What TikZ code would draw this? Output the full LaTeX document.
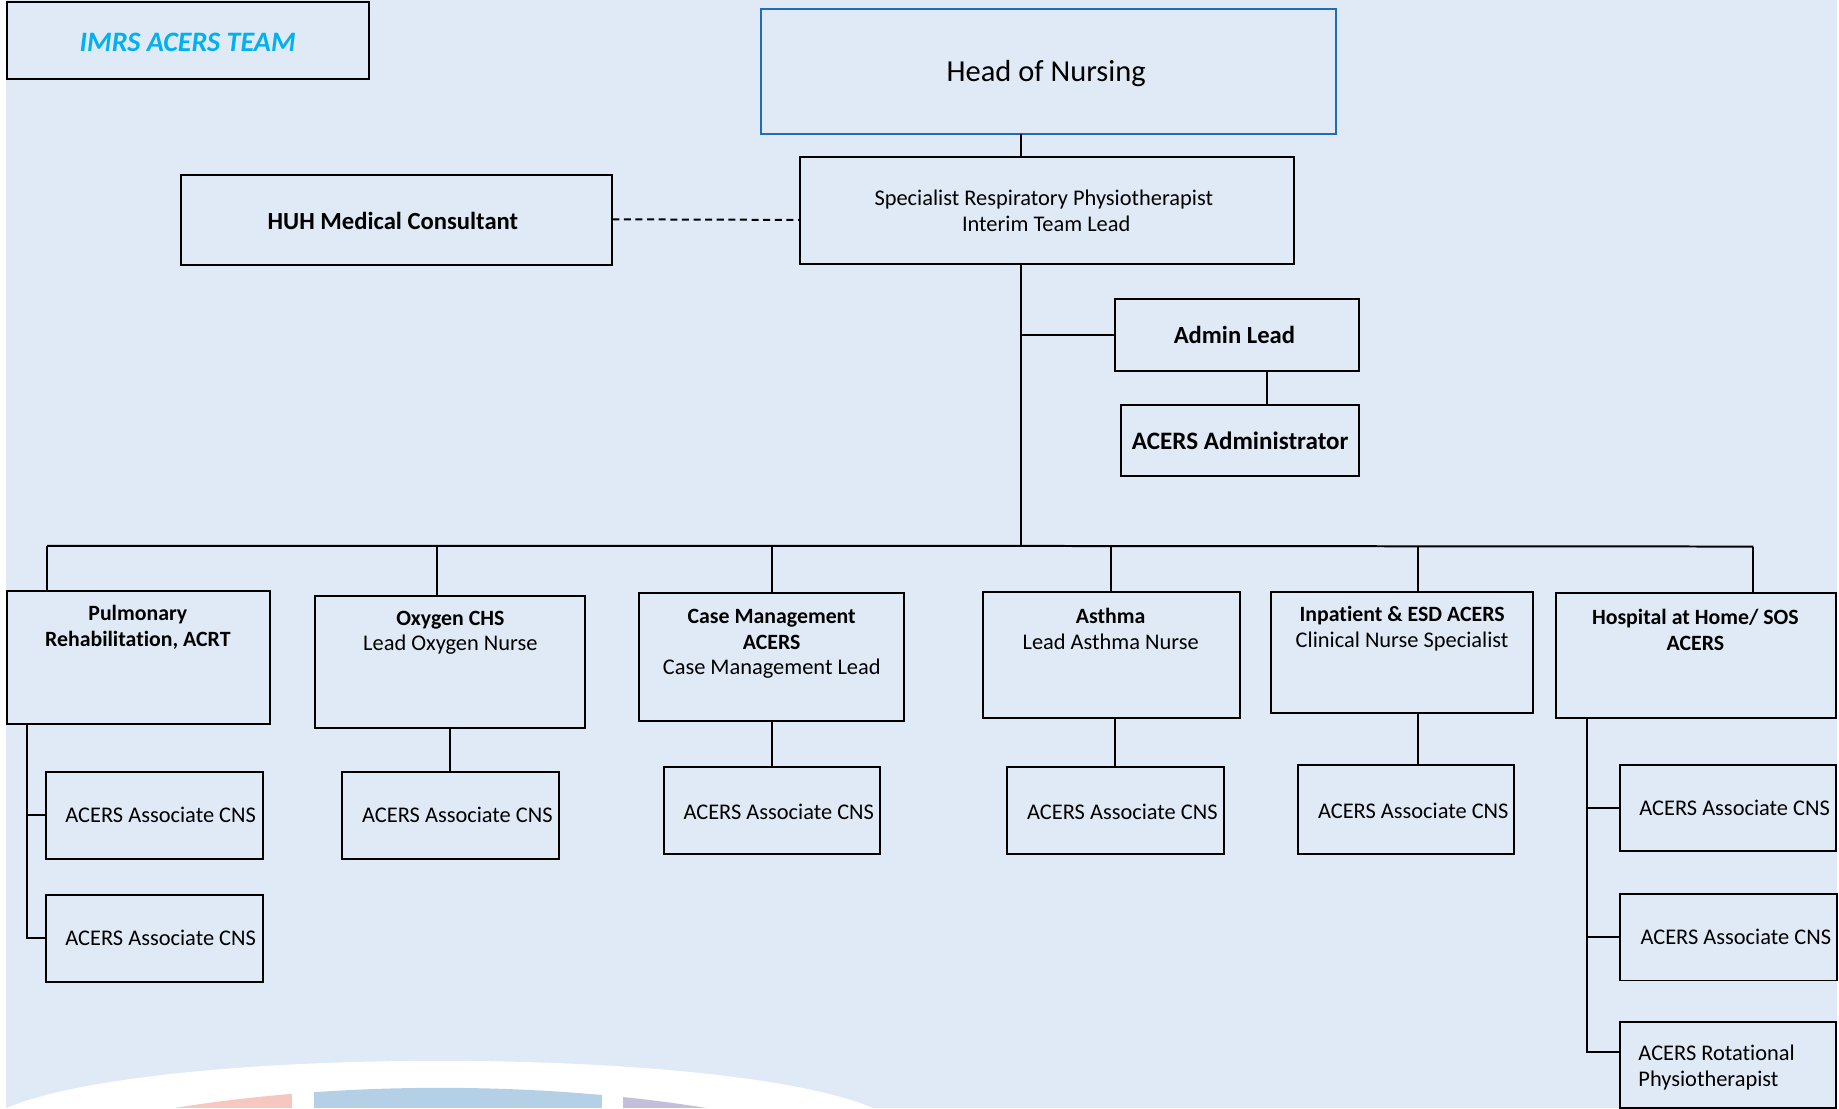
\documentclass[tikz,border=0pt]{standalone}
\usepackage{fontspec}
\setmainfont[Ligatures={NoCommon}]{Carlito}
\definecolor{bgc}{HTML}{E0EAF6}
\definecolor{headblue}{HTML}{1F6DB5}
\definecolor{teamc}{HTML}{00B0F0}
\definecolor{segr}{HTML}{F6C6C0}
\definecolor{segb}{HTML}{B3D0E7}
\definecolor{segp}{HTML}{C2BEDC}
\tikzset{
  boxst/.style={draw=black,line width=1.7pt,inner sep=0pt,outer sep=0pt},
  headst/.style={boxst,draw=headblue},
  txt/.style={inner sep=0pt,outer sep=0pt,align=center,text=black,font=\fontsize{19.1}{22}\selectfont},
  txtl/.style={txt,align=left},
  bigb/.style={txt,font=\fontsize{21}{24}\selectfont\bfseries},
  link/.style={draw=black,line width=1.7pt},
}
\newcommand{\bb}[1]{{\fontsize{18.6}{22}\selectfont\bfseries #1}}
% name, x1,y1,x2,y2
\newcommand{\mybox}[6][boxst]{%
  \pgfmathsetlengthmacro{\bw}{#5-#3}\pgfmathsetlengthmacro{\bh}{#6-#4}%
  \node[#1,minimum width=\bw,minimum height=\bh,anchor=north west] (#2) at (#3,#4) {};}
\begin{document}
\begin{tikzpicture}[x=1pt,y=-1pt]
\useasboundingbox (0,0) rectangle (1568,945);
\fill[white] (0,0) rectangle (1568,945);
\fill[bgc] (5,0) rectangle (1566,945);
\fill[white] (5,945) .. controls (130,891) and (620,891) .. (745,945) -- cycle;
\begin{scope}
\clip (147,945) .. controls (290,921.7) and (461,921.7) .. (604,945) -- cycle;
\fill[segr] (147,920) rectangle (249,945);
\fill[segb] (268,920) rectangle (513,945);
\fill[segp] (531,920) rectangle (604,945);
\end{scope}

\mybox{team}{6}{2}{315}{67}
\mybox[headst]{head}{649}{8}{1139}{114}
\mybox{spec}{682}{134}{1103}{225}
\mybox{huh}{154}{149}{522}{226}
\mybox{admin}{951}{255}{1159}{316}
\mybox{administrator}{956}{345}{1159}{406}
\mybox{pulm}{6}{504}{230}{617}
\mybox{oxy}{269}{508}{499}{621}
\mybox{case}{545}{506}{771}{615}
\mybox{asth}{838}{505}{1057}{612}
\mybox{inp}{1084}{505}{1307}{608}
\mybox{hosp}{1327}{506}{1565}{612}
\mybox{pa}{39}{658}{224}{732}
\mybox{pb}{39}{763}{224}{837}
\mybox{oa}{292}{658}{477}{732}
\mybox{ca}{566}{654}{750}{728}
\mybox{aa}{859}{654}{1044}{728}
\mybox{ia}{1107}{652}{1291}{728}
\mybox{ha}{1381}{652}{1565}{726}
\mybox{hb}{1381}{762}{1566}{836}
\mybox{hc}{1381}{871}{1565}{945}

\node[txt,font=\fontsize{24}{27}\selectfont\bfseries\itshape,text=teamc] (teamt) at (160,36.5) {IMRS ACERS TEAM};
\node[txt,font=\fontsize{26}{30}\selectfont] (headt) at (892,62.5) {Head of Nursing};
\node[txt] (spect) at (890,180) {Specialist Respiratory Physiotherapist\\\hspace*{4pt}Interim Team Lead};
\node[bigb] (huht) at (335,188) {HUH Medical Consultant};
\node[bigb] (admint) at (1052.5,286) {Admin Lead};
\node[bigb,font=\fontsize{21.4}{24}\selectfont\bfseries] (administratort) at (1057.5,375.5) {ACERS Administrator};
\node[txt] (pulmt) at (117.5,535) {\bb{Pulmonary}\\\bb{Rehabilitation, ACRT}};
\node[txt] (oxyt) at (384,539.5) {\bb{Oxygen CHS}\\Lead Oxygen Nurse};
\node[txt] (caset) at (658,549) {\bb{Case Management}\\\bb{ACERS}\\Case Management Lead};
\node[txt] (astht) at (947,536) {\bb{Asthma}\\Lead Asthma Nurse};
\node[txt] (inpt) at (1195.5,536) {\bb{Inpatient \& ESD ACERS}\\Clinical Nurse Specialist};
\node[txt] (hospt) at (1445.5,537) {\bb{Hospital at Home/ SOS}\\\bb{ACERS}};
\node[txt] (pat) at (137,695) {ACERS Associate CNS};
\node[txt] (pbt) at (137,800) {ACERS Associate CNS};
\node[txt] (oat) at (390,695) {ACERS Associate CNS};
\node[txt] (cat) at (664,692) {ACERS Associate CNS};
\node[txt] (aat) at (957,692) {ACERS Associate CNS};
\node[txt] (iat) at (1205,691) {ACERS Associate CNS};
\node[txt] (hat) at (1479,689) {ACERS Associate CNS};
\node[txt] (hbt) at (1480,799) {ACERS Associate CNS};
\node[txtl,anchor=west] (hct) at (1397,910) {ACERS Rotational\\Physiotherapist};

\coordinate (trunk) at (870.5,465.5);
\coordinate (busl) at (40,465.5);
\coordinate (busr) at (1495,466);
\coordinate (d2) at (373,465.5);
\coordinate (d3) at (658,465.5);
\coordinate (d4) at (947,465.5);
\coordinate (d5) at (1209,465.5);
\coordinate (adm) at (1080,316);
\coordinate (ox) at (384,621);
\coordinate (as) at (951,612);
\coordinate (ps) at (23,617);
\coordinate (hs) at (1353,612);

\draw[link] (head.south -| trunk) -- (spec.north -| trunk);
\draw[link] (spec.south -| trunk) -- (trunk);
\draw[link,dash pattern=on 6pt off 3.9pt] (huh.east) ++(0,-0.5) -- (spec.west |- 0,187.5);
\draw[link] (admin.west) -- (admin.west -| trunk);
\draw[link] (adm) -- (administrator.north -| adm);
\draw[link] (busl) -- (trunk) -- (busr);
\draw[link] (busl) -- (pulm.north -| busl);
\draw[link] (d2) -- (oxy.north -| d2);
\draw[link] (d3) -- (case.north -| d3);
\draw[link] (d4) -- (asth.north -| d4);
\draw[link] (d5) -- (inp.north -| d5);
\draw[link] (busr) -- (hosp.north -| busr);
\draw[link] (ox) -- (oa.north -| ox);
\draw[link] (case.south -| d3) -- (ca.north -| d3);
\draw[link] (as) -- (aa.north -| as);
\draw[link] (inp.south -| d5) -- (ia.north -| d5);
\draw[link] (ps) |- (pb.west);
\draw[link] (pa.west) -- (pa.west -| ps);
\draw[link] (hs) |- (hc.west |- 0,897);
\draw[link] (ha.west) -- (ha.west -| hs);
\draw[link] (hb.west) -- (hb.west -| hs);
\end{tikzpicture}
\end{document}
